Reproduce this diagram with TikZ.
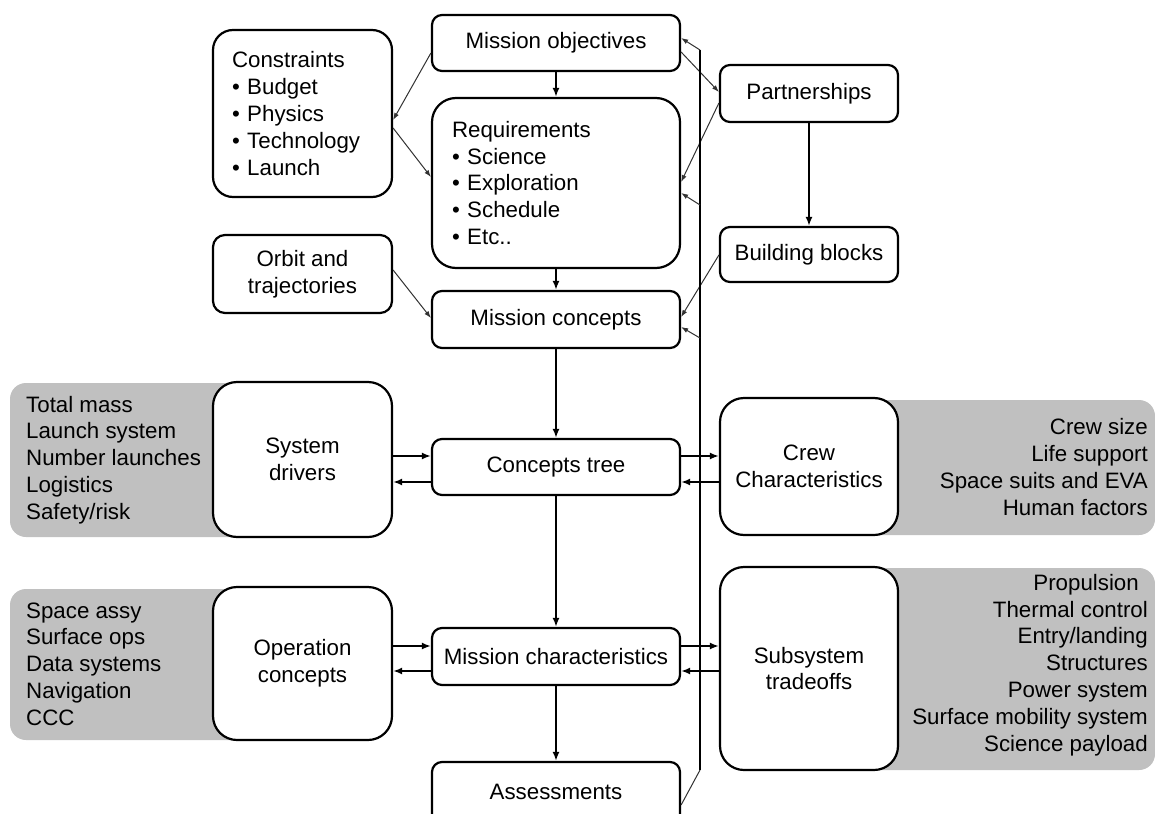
\documentclass[tikz,border=0pt]{standalone}
\usepackage{fontspec}
\setmainfont{Liberation Sans}
\usetikzlibrary{calc,arrows.meta}
\newcommand\diagfont{\fontsize{22.3}{26.8}\selectfont}
\definecolor{panelgray}{RGB}{192,192,192}
\definecolor{thinline}{RGB}{50,50,50}
\begin{document}
\begin{tikzpicture}[x=1pt,y=-1pt,
  box/.style={draw,line width=2.2pt,rounded corners=10pt,fill=white,font=\diagfont,align=center,inner sep=0pt},
  bigbox/.style={box,rounded corners=24pt},
  panel/.style={fill=panelgray,rounded corners=16pt},
  paneltext/.style={font=\diagfont,inner sep=0pt},
  arr/.style={line width=1.8pt,-{Latex[length=9pt,width=7pt]}},
  thinarr/.style={line width=1pt,draw=thinline,-{Latex[length=7pt,width=5pt]}},
  thinln/.style={line width=1pt,draw=thinline},
  fbline/.style={line width=1.8pt}]
\useasboundingbox (0,0) rectangle (1155,813);
\fill[white] (0,0) rectangle (1155,813);

% gray panels
\fill[panel] (10,383) rectangle (300,537);
\fill[panel] (10,589) rectangle (300,740);
\fill[panel] (820,400) rectangle (1155,535);
\fill[panel] (820,568) rectangle (1155,770);

\node[paneltext,anchor=west,align=left] (t1) at (26,460) {Total mass\\Launch system\\Number launches\\Logistics\\Safety/risk};
\node[paneltext,anchor=west,align=left] (t2) at (26,664) {Space assy\\Surface ops\\Data systems\\Navigation\\CCC};
\node[paneltext,anchor=east,align=right] (t3) at (1148,467) {Crew size\\Life support\\Space suits and EVA\\Human factors};
\node[paneltext,anchor=east,align=right] (t4) at (1148,665) {Propulsion\hspace*{9pt}\\Thermal control\\Entry/landing\\Structures\\Power system\hspace*{3pt}\\Surface mobility system\\Science payload};

% central column
\node[box,minimum width=248pt,minimum height=56pt] (mobj) at (556,43) {Mission objectives};
\node[bigbox,minimum width=248pt,minimum height=170pt,align=left,text width=208pt,inner xsep=20pt] (req) at (556,183)
  {Requirements\\\textbullet\ Science\\\textbullet\ Exploration\\\textbullet\ Schedule\\\textbullet\ Etc..};
\node[box,minimum width=248pt,minimum height=57pt] (mcon) at (556,319.5) {Mission concepts};
\node[box,minimum width=248pt,minimum height=56pt] (ctree) at (556,467) {Concepts tree};
\node[box,minimum width=248pt,minimum height=57pt] (mchar) at (556,656.5) {Mission characteristics};
\node[box,minimum width=248pt,minimum height=70pt] (assess) at (556,797) {\raisebox{10pt}{Assessments}};

% left column
\node[box,rounded corners=20pt,minimum width=179pt,minimum height=167pt,align=left,text width=141pt,inner xsep=19pt] (constr) at (302.5,113.5)
  {Constraints\\\textbullet\ Budget\\\textbullet\ Physics\\\textbullet\ Technology\\\textbullet\ Launch};
\node[box,rounded corners=12pt,minimum width=179pt,minimum height=78pt] (orbit) at (302.5,274) {Orbit and\\trajectories};
\node[bigbox,minimum width=179pt,minimum height=155pt] (sysdrv) at (302.5,459.5) {System\\drivers};
\node[bigbox,minimum width=179pt,minimum height=153pt] (opcon) at (302.5,663.5) {Operation\\concepts};

% right column
\node[box,minimum width=178pt,minimum height=57pt] (partner) at (809,93.5) {Partnerships};
\node[box,minimum width=178pt,minimum height=55pt] (bblocks) at (809,254.5) {Building blocks};
\node[bigbox,minimum width=178pt,minimum height=137pt] (crew) at (809,466.5) {Crew\\Characteristics};
\node[bigbox,minimum width=178pt,minimum height=203pt] (subsys) at (809,668.5) {Subsystem\\tradeoffs};

% vertical flow
\draw[arr] (mobj) -- (req);
\draw[arr] (req) -- (mcon);
\draw[arr] (mcon) -- (ctree);
\draw[arr] (ctree) -- (mchar);
\draw[arr] (mchar) -- (assess);
\draw[arr] (partner) -- (bblocks);

% thin diagonal links
\draw[thinarr] ($(mobj.west)+(0,10)$) -- ($(constr.east)+(0,6.5)$);
\draw[thinarr] ($(constr.east)+(0,14.5)$) -- ($(req.west)+(0,-6)$);
\draw[thinarr] ($(orbit.east)+(0,-4)$) -- ($(mcon.west)+(0,-1.5)$);
\draw[thinarr] ($(mobj.east)+(0,9)$) -- ($(partner.west)+(0,-1.5)$);
\draw[thinarr] ($(partner.west)+(0,9.5)$) -- ($(req.east)+(0,-1)$);
\draw[thinarr] ($(bblocks.west)+(0,0.5)$) -- ($(mcon.east)+(0,-2.5)$);

% feedback loop
\coordinate (fbtop) at (700,50);
\coordinate (fbbot) at (700,770);
\coordinate (fbreq) at (700,205);
\coordinate (fbmcon) at (700,338);
\draw[fbline] (fbbot) -- (fbtop);
\draw[thinln] ($(assess.east)+(0,8)$) -- (fbbot);
\draw[thinarr] (fbtop) -- ($(mobj.east)+(0,-5)$);
\draw[thinarr] (fbreq) -- ($(req.east)+(0,10)$);
\draw[thinarr] (fbmcon) -- ($(mcon.east)+(0,7.5)$);

% horizontal exchanges
\draw[arr] ($(sysdrv.east |- ctree.west)+(0,-11)$) -- ($(ctree.west)+(0,-11)$);
\draw[arr] ($(ctree.west)+(0,15)$) -- ($(sysdrv.east |- ctree.west)+(0,15)$);
\draw[arr] ($(ctree.east)+(0,-11)$) -- ($(crew.west |- ctree.east)+(0,-11)$);
\draw[arr] ($(crew.west |- ctree.east)+(0,15)$) -- ($(ctree.east)+(0,15)$);
\draw[arr] ($(opcon.east |- mchar.west)+(0,-10.5)$) -- ($(mchar.west)+(0,-10.5)$);
\draw[arr] ($(mchar.west)+(0,14.5)$) -- ($(opcon.east |- mchar.west)+(0,14.5)$);
\draw[arr] ($(mchar.east)+(0,-10.5)$) -- ($(subsys.west |- mchar.east)+(0,-10.5)$);
\draw[arr] ($(subsys.west |- mchar.east)+(0,14.5)$) -- ($(mchar.east)+(0,14.5)$);
\end{tikzpicture}
\end{document}
